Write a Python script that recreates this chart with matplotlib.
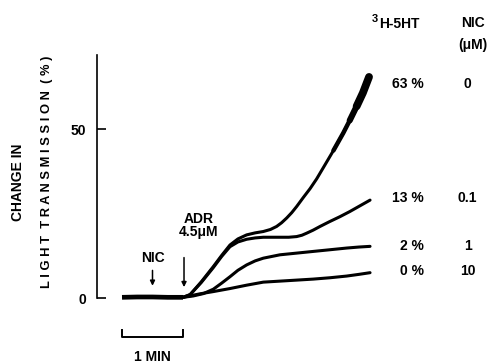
import matplotlib
matplotlib.use("Agg")
import matplotlib.pyplot as plt

plt.rcParams['font.family'] = ['Liberation Sans', 'DejaVu Sans']
plt.rcParams['font.weight'] = 'bold'

# time in seconds, values in % change in light transmission
baseline_t = [0, 15, 30, 45, 60]
baseline_y = [0.2, 0.3, 0.3, 0.2, 0.2]

t63 = [60, 67, 78, 89.8, 98, 106.2, 114, 122.6, 131, 139, 146, 152.1, 157, 162, 167, 171.8, 178.4, 185, 191.5, 198, 208, 217.7, 224, 230.8, 237, 243]
y63 = [0.2, 1.0, 4.8, 9.3, 12.6, 15.7, 17.5, 18.7, 19.3, 19.7, 20.3, 21.2, 22.3, 23.7, 25.3, 27.1, 29.8, 32.4, 35.3, 38.6, 43.7, 48.9, 52.6, 56.8, 60.8, 65.5]

t13 = [60, 67, 78, 89.8, 98, 106.2, 114, 122.6, 131, 139, 147, 155.4, 164, 171.8, 177, 181.6, 188, 194.8, 204, 214.4, 224, 234, 244]
y13 = [0.2, 1.0, 4.6, 9.0, 12.3, 15.2, 16.6, 17.4, 17.8, 18.0, 18.0, 18.0, 18.0, 18.2, 18.6, 19.2, 20.1, 21.2, 22.6, 24.1, 25.6, 27.3, 29.0]

t2 = [60, 70, 80, 89.8, 98, 106.2, 114, 122.6, 131, 139, 155.4, 171.8, 188.1, 204.6, 221, 233, 244]
y2 = [0.2, 0.6, 1.3, 2.6, 4.4, 6.3, 8.2, 9.8, 11.0, 11.8, 12.8, 13.3, 13.8, 14.3, 14.8, 15.1, 15.3]

t0 = [60, 76, 89.8, 106.2, 122.6, 139, 155.4, 171.8, 188.1, 204.6, 221, 233, 244]
y0 = [0.2, 1.2, 1.9, 2.8, 3.8, 4.7, 5.0, 5.3, 5.6, 6.0, 6.5, 7.0, 7.5]

pct_labels = ['63 %', '13 %', '2 %', '0 %']
pct_y = [63.5, 29.5, 15.4, 8.0]
nic_labels = ['0', '0.1', '1', '10']

fig = plt.figure(figsize=(4.94, 3.64), dpi=100)
ax = fig.add_axes([97/494, (364-298)/364, (380-97)/494, (298-55)/364])
ax.set_xlim(-24.6, 253.8)
ax.set_ylim(0, 72)

ax.plot(baseline_t, baseline_y, color='black', lw=3.4, solid_capstyle='butt', clip_on=False)
for t, y in [(t63, y63), (t13, y13), (t2, y2), (t0, y0)]:
    ax.plot(t, y, color='black', lw=2.2, clip_on=False, solid_capstyle='round')
# heavier noisy end of top trace
ax.plot(t63[-6:], y63[-6:], color='black', lw=3.2, clip_on=False, solid_capstyle='round')
ax.plot(t63[-4:], y63[-4:], color='black', lw=4.4, clip_on=False, solid_capstyle='round')
ax.plot(t63[-3:], y63[-3:], color='black', lw=5.6, clip_on=False, solid_capstyle='round')

for s in ['top', 'right', 'bottom']:
    ax.spines[s].set_visible(False)
ax.spines['left'].set_linewidth(1.2)
ax.set_xticks([])
ax.set_yticks([0, 50])
ax.set_yticklabels(['0', '50'], fontsize=10)
ax.tick_params(axis='y', direction='in', length=6.5, width=1.2, pad=8)

# y labels
fig.text(18/494, 1-182/364, 'CHANGE IN', rotation=90, ha='center', va='center', fontsize=10)
fig.text(47/494, 1-172/364, 'L I G H T  T R A N S M I S S I O N  ( % )',
         rotation=90, ha='center', va='center', fontsize=9.3)

# annotations
ax.annotate('', xy=(30, 2.8), xytext=(30, 9.0),
            arrowprops=dict(arrowstyle='-|>', color='black', lw=1.1, mutation_scale=7), annotation_clip=False)
ax.text(30, 12.0, 'NIC', ha='center', va='center', fontsize=10)
ax.annotate('', xy=(61, 2.4), xytext=(61, 12.8),
            arrowprops=dict(arrowstyle='-|>', color='black', lw=1.1, mutation_scale=7), annotation_clip=False)
ax.text(75, 21.5, 'ADR\n4.5\u03bcM', ha='center', va='center', fontsize=10, linespacing=0.95)

# right labels
for lab, yv, nl in zip(pct_labels, pct_y, nic_labels):
    ax.text(297, yv, lab, ha='right', va='center', fontsize=10, clip_on=False)
    ax.text(340, yv, nl, ha='center', va='center', fontsize=10, clip_on=False)
fig.text(372/494, 1-19/364, '3', ha='left', va='center', fontsize=8)
fig.text(379/494, 1-24/364, 'H-5HT', ha='left', va='center', fontsize=10)
fig.text(473/494, 1-23/364, 'NIC', ha='center', va='center', fontsize=10)
fig.text(473/494, 1-45/364, '(\u03bcM)', ha='center', va='center', fontsize=10)

# scale bar
ax.plot([0, 0, 60, 60], [-9.5, -11.7, -11.7, -9.5], color='black', lw=1.4, clip_on=False)
fig.text(152/494, 1-357/364, '1 MIN', ha='center', va='center', fontsize=10)

fig.savefig('out.png', dpi=100)
